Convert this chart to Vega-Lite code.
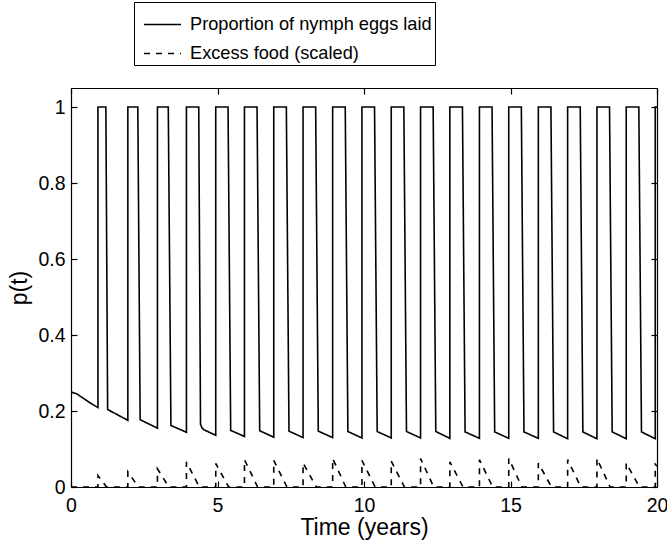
{
  "$schema": "https://vega.github.io/schema/vega-lite/v6.json",
  "width": 586,
  "height": 399,
  "autosize": {"type": "none"},
  "padding": {"left": 71, "top": 88, "right": 10, "bottom": 59},
  "background": "white",
  "config": {
    "view": {"stroke": null},
    "font": "Liberation Sans",
    "axis": {
      "grid": false,
      "labelFlush": false,
      "labelOverlap": false,
      "domainColor": "black",
      "domainWidth": 1.2,
      "tickColor": "black",
      "tickWidth": 1.2,
      "tickSize": -6,
      "labelColor": "black",
      "labelFont": "Liberation Sans",
      "labelFontSize": 19.5,
      "titleColor": "black",
      "titleFont": "Liberation Sans",
      "titleFontSize": 23,
      "titleFontWeight": "normal"
    }
  },
  "data": {
    "values": [
      {"t": 0, "v": 0.25, "s": "Proportion of nymph eggs laid", "i": 0},
      {"t": 0.2, "v": 0.245, "s": "Proportion of nymph eggs laid", "i": 1},
      {"t": 0.43, "v": 0.233, "s": "Proportion of nymph eggs laid", "i": 2},
      {"t": 0.66, "v": 0.221, "s": "Proportion of nymph eggs laid", "i": 3},
      {"t": 0.92, "v": 0.209, "s": "Proportion of nymph eggs laid", "i": 4},
      {"t": 0.92, "v": 1, "s": "Proportion of nymph eggs laid", "i": 5},
      {"t": 1.19, "v": 1, "s": "Proportion of nymph eggs laid", "i": 6},
      {"t": 1.25, "v": 0.204, "s": "Proportion of nymph eggs laid", "i": 7},
      {"t": 1.94, "v": 0.1755, "s": "Proportion of nymph eggs laid", "i": 8},
      {"t": 1.94, "v": 1, "s": "Proportion of nymph eggs laid", "i": 9},
      {"t": 2.28, "v": 1, "s": "Proportion of nymph eggs laid", "i": 10},
      {"t": 2.36, "v": 0.177, "s": "Proportion of nymph eggs laid", "i": 11},
      {"t": 2.95, "v": 0.155, "s": "Proportion of nymph eggs laid", "i": 12},
      {"t": 2.95, "v": 1, "s": "Proportion of nymph eggs laid", "i": 13},
      {"t": 3.32, "v": 1, "s": "Proportion of nymph eggs laid", "i": 14},
      {"t": 3.41, "v": 0.162, "s": "Proportion of nymph eggs laid", "i": 15},
      {"t": 3.94, "v": 0.144, "s": "Proportion of nymph eggs laid", "i": 16},
      {"t": 3.94, "v": 1, "s": "Proportion of nymph eggs laid", "i": 17},
      {"t": 4.36, "v": 1, "s": "Proportion of nymph eggs laid", "i": 18},
      {"t": 4.42, "v": 0.165, "s": "Proportion of nymph eggs laid", "i": 19},
      {"t": 4.47, "v": 0.156, "s": "Proportion of nymph eggs laid", "i": 20},
      {"t": 4.53, "v": 0.151, "s": "Proportion of nymph eggs laid", "i": 21},
      {"t": 4.94, "v": 0.136, "s": "Proportion of nymph eggs laid", "i": 22},
      {"t": 4.94, "v": 1, "s": "Proportion of nymph eggs laid", "i": 23},
      {"t": 5.36, "v": 1, "s": "Proportion of nymph eggs laid", "i": 24},
      {"t": 5.45, "v": 0.149, "s": "Proportion of nymph eggs laid", "i": 25},
      {"t": 5.92, "v": 0.133, "s": "Proportion of nymph eggs laid", "i": 26},
      {"t": 5.92, "v": 1, "s": "Proportion of nymph eggs laid", "i": 27},
      {"t": 6.35, "v": 1, "s": "Proportion of nymph eggs laid", "i": 28},
      {"t": 6.44, "v": 0.148, "s": "Proportion of nymph eggs laid", "i": 29},
      {"t": 6.92, "v": 0.131, "s": "Proportion of nymph eggs laid", "i": 30},
      {"t": 6.92, "v": 1, "s": "Proportion of nymph eggs laid", "i": 31},
      {"t": 7.35, "v": 1, "s": "Proportion of nymph eggs laid", "i": 32},
      {"t": 7.44, "v": 0.147, "s": "Proportion of nymph eggs laid", "i": 33},
      {"t": 7.92, "v": 0.13, "s": "Proportion of nymph eggs laid", "i": 34},
      {"t": 7.92, "v": 1, "s": "Proportion of nymph eggs laid", "i": 35},
      {"t": 8.35, "v": 1, "s": "Proportion of nymph eggs laid", "i": 36},
      {"t": 8.44, "v": 0.147, "s": "Proportion of nymph eggs laid", "i": 37},
      {"t": 8.93, "v": 0.13, "s": "Proportion of nymph eggs laid", "i": 38},
      {"t": 8.93, "v": 1, "s": "Proportion of nymph eggs laid", "i": 39},
      {"t": 9.36, "v": 1, "s": "Proportion of nymph eggs laid", "i": 40},
      {"t": 9.45, "v": 0.146, "s": "Proportion of nymph eggs laid", "i": 41},
      {"t": 9.93, "v": 0.129, "s": "Proportion of nymph eggs laid", "i": 42},
      {"t": 9.93, "v": 1, "s": "Proportion of nymph eggs laid", "i": 43},
      {"t": 10.36, "v": 1, "s": "Proportion of nymph eggs laid", "i": 44},
      {"t": 10.45, "v": 0.146, "s": "Proportion of nymph eggs laid", "i": 45},
      {"t": 10.93, "v": 0.129, "s": "Proportion of nymph eggs laid", "i": 46},
      {"t": 10.93, "v": 1, "s": "Proportion of nymph eggs laid", "i": 47},
      {"t": 11.36, "v": 1, "s": "Proportion of nymph eggs laid", "i": 48},
      {"t": 11.45, "v": 0.146, "s": "Proportion of nymph eggs laid", "i": 49},
      {"t": 11.93, "v": 0.129, "s": "Proportion of nymph eggs laid", "i": 50},
      {"t": 11.93, "v": 1, "s": "Proportion of nymph eggs laid", "i": 51},
      {"t": 12.36, "v": 1, "s": "Proportion of nymph eggs laid", "i": 52},
      {"t": 12.45, "v": 0.146, "s": "Proportion of nymph eggs laid", "i": 53},
      {"t": 12.93, "v": 0.128, "s": "Proportion of nymph eggs laid", "i": 54},
      {"t": 12.93, "v": 1, "s": "Proportion of nymph eggs laid", "i": 55},
      {"t": 13.36, "v": 1, "s": "Proportion of nymph eggs laid", "i": 56},
      {"t": 13.45, "v": 0.145, "s": "Proportion of nymph eggs laid", "i": 57},
      {"t": 13.94, "v": 0.128, "s": "Proportion of nymph eggs laid", "i": 58},
      {"t": 13.94, "v": 1, "s": "Proportion of nymph eggs laid", "i": 59},
      {"t": 14.37, "v": 1, "s": "Proportion of nymph eggs laid", "i": 60},
      {"t": 14.46, "v": 0.145, "s": "Proportion of nymph eggs laid", "i": 61},
      {"t": 14.94, "v": 0.128, "s": "Proportion of nymph eggs laid", "i": 62},
      {"t": 14.94, "v": 1, "s": "Proportion of nymph eggs laid", "i": 63},
      {"t": 15.37, "v": 1, "s": "Proportion of nymph eggs laid", "i": 64},
      {"t": 15.46, "v": 0.145, "s": "Proportion of nymph eggs laid", "i": 65},
      {"t": 15.95, "v": 0.128, "s": "Proportion of nymph eggs laid", "i": 66},
      {"t": 15.95, "v": 1, "s": "Proportion of nymph eggs laid", "i": 67},
      {"t": 16.38, "v": 1, "s": "Proportion of nymph eggs laid", "i": 68},
      {"t": 16.47, "v": 0.145, "s": "Proportion of nymph eggs laid", "i": 69},
      {"t": 16.95, "v": 0.127, "s": "Proportion of nymph eggs laid", "i": 70},
      {"t": 16.95, "v": 1, "s": "Proportion of nymph eggs laid", "i": 71},
      {"t": 17.38, "v": 1, "s": "Proportion of nymph eggs laid", "i": 72},
      {"t": 17.47, "v": 0.145, "s": "Proportion of nymph eggs laid", "i": 73},
      {"t": 17.95, "v": 0.127, "s": "Proportion of nymph eggs laid", "i": 74},
      {"t": 17.95, "v": 1, "s": "Proportion of nymph eggs laid", "i": 75},
      {"t": 18.38, "v": 1, "s": "Proportion of nymph eggs laid", "i": 76},
      {"t": 18.47, "v": 0.145, "s": "Proportion of nymph eggs laid", "i": 77},
      {"t": 18.95, "v": 0.127, "s": "Proportion of nymph eggs laid", "i": 78},
      {"t": 18.95, "v": 1, "s": "Proportion of nymph eggs laid", "i": 79},
      {"t": 19.38, "v": 1, "s": "Proportion of nymph eggs laid", "i": 80},
      {"t": 19.47, "v": 0.145, "s": "Proportion of nymph eggs laid", "i": 81},
      {"t": 19.94, "v": 0.127, "s": "Proportion of nymph eggs laid", "i": 82},
      {"t": 19.94, "v": 1, "s": "Proportion of nymph eggs laid", "i": 83},
      {"t": 20, "v": 1, "s": "Proportion of nymph eggs laid", "i": 84},
      {"t": 0, "v": 0, "s": "Excess food (scaled)", "i": 85},
      {"t": 0.92, "v": 0, "s": "Excess food (scaled)", "i": 86},
      {"t": 0.92, "v": 0.03, "s": "Excess food (scaled)", "i": 87},
      {"t": 1.21, "v": 0, "s": "Excess food (scaled)", "i": 88},
      {"t": 1.94, "v": 0, "s": "Excess food (scaled)", "i": 89},
      {"t": 1.94, "v": 0.04, "s": "Excess food (scaled)", "i": 90},
      {"t": 2.3, "v": 0, "s": "Excess food (scaled)", "i": 91},
      {"t": 2.95, "v": 0, "s": "Excess food (scaled)", "i": 92},
      {"t": 2.95, "v": 0.048, "s": "Excess food (scaled)", "i": 93},
      {"t": 3.34, "v": 0, "s": "Excess food (scaled)", "i": 94},
      {"t": 3.94, "v": 0, "s": "Excess food (scaled)", "i": 95},
      {"t": 3.94, "v": 0.066, "s": "Excess food (scaled)", "i": 96},
      {"t": 4.38, "v": 0, "s": "Excess food (scaled)", "i": 97},
      {"t": 4.94, "v": 0, "s": "Excess food (scaled)", "i": 98},
      {"t": 4.94, "v": 0.062, "s": "Excess food (scaled)", "i": 99},
      {"t": 5.38, "v": 0, "s": "Excess food (scaled)", "i": 100},
      {"t": 5.92, "v": 0, "s": "Excess food (scaled)", "i": 101},
      {"t": 5.92, "v": 0.072, "s": "Excess food (scaled)", "i": 102},
      {"t": 6.37, "v": 0, "s": "Excess food (scaled)", "i": 103},
      {"t": 6.92, "v": 0, "s": "Excess food (scaled)", "i": 104},
      {"t": 6.92, "v": 0.07, "s": "Excess food (scaled)", "i": 105},
      {"t": 7.37, "v": 0, "s": "Excess food (scaled)", "i": 106},
      {"t": 7.92, "v": 0, "s": "Excess food (scaled)", "i": 107},
      {"t": 7.92, "v": 0.063, "s": "Excess food (scaled)", "i": 108},
      {"t": 8.37, "v": 0, "s": "Excess food (scaled)", "i": 109},
      {"t": 8.93, "v": 0, "s": "Excess food (scaled)", "i": 110},
      {"t": 8.93, "v": 0.075, "s": "Excess food (scaled)", "i": 111},
      {"t": 9.38, "v": 0, "s": "Excess food (scaled)", "i": 112},
      {"t": 9.93, "v": 0, "s": "Excess food (scaled)", "i": 113},
      {"t": 9.93, "v": 0.07, "s": "Excess food (scaled)", "i": 114},
      {"t": 10.38, "v": 0, "s": "Excess food (scaled)", "i": 115},
      {"t": 10.93, "v": 0, "s": "Excess food (scaled)", "i": 116},
      {"t": 10.93, "v": 0.068, "s": "Excess food (scaled)", "i": 117},
      {"t": 11.38, "v": 0, "s": "Excess food (scaled)", "i": 118},
      {"t": 11.93, "v": 0, "s": "Excess food (scaled)", "i": 119},
      {"t": 11.93, "v": 0.075, "s": "Excess food (scaled)", "i": 120},
      {"t": 12.38, "v": 0, "s": "Excess food (scaled)", "i": 121},
      {"t": 12.93, "v": 0, "s": "Excess food (scaled)", "i": 122},
      {"t": 12.93, "v": 0.066, "s": "Excess food (scaled)", "i": 123},
      {"t": 13.38, "v": 0, "s": "Excess food (scaled)", "i": 124},
      {"t": 13.94, "v": 0, "s": "Excess food (scaled)", "i": 125},
      {"t": 13.94, "v": 0.072, "s": "Excess food (scaled)", "i": 126},
      {"t": 14.39, "v": 0, "s": "Excess food (scaled)", "i": 127},
      {"t": 14.94, "v": 0, "s": "Excess food (scaled)", "i": 128},
      {"t": 14.94, "v": 0.075, "s": "Excess food (scaled)", "i": 129},
      {"t": 15.39, "v": 0, "s": "Excess food (scaled)", "i": 130},
      {"t": 15.95, "v": 0, "s": "Excess food (scaled)", "i": 131},
      {"t": 15.95, "v": 0.063, "s": "Excess food (scaled)", "i": 132},
      {"t": 16.4, "v": 0, "s": "Excess food (scaled)", "i": 133},
      {"t": 16.95, "v": 0, "s": "Excess food (scaled)", "i": 134},
      {"t": 16.95, "v": 0.072, "s": "Excess food (scaled)", "i": 135},
      {"t": 17.4, "v": 0, "s": "Excess food (scaled)", "i": 136},
      {"t": 17.95, "v": 0, "s": "Excess food (scaled)", "i": 137},
      {"t": 17.95, "v": 0.075, "s": "Excess food (scaled)", "i": 138},
      {"t": 18.4, "v": 0, "s": "Excess food (scaled)", "i": 139},
      {"t": 18.95, "v": 0, "s": "Excess food (scaled)", "i": 140},
      {"t": 18.95, "v": 0.063, "s": "Excess food (scaled)", "i": 141},
      {"t": 19.4, "v": 0, "s": "Excess food (scaled)", "i": 142},
      {"t": 19.94, "v": 0, "s": "Excess food (scaled)", "i": 143},
      {"t": 19.94, "v": 0.06, "s": "Excess food (scaled)", "i": 144},
      {"t": 20, "v": 0.055, "s": "Excess food (scaled)", "i": 145}
    ]
  },
  "layer": [
    {
      "mark": {"type": "line", "color": "black", "strokeWidth": 1.6, "clip": true},
      "encoding": {
        "x": {
          "field": "t", "type": "quantitative",
          "scale": {"domain": [0, 20], "nice": false, "zero": false},
          "axis": {"orient": "bottom", "values": [0, 5, 10, 15, 20], "format": "~g", "labelPadding": 15, "title": "Time (years)", "titlePadding": 2}
        },
        "y": {
          "field": "v", "type": "quantitative",
          "scale": {"domain": [0, 1.05], "nice": false},
          "axis": {"orient": "left", "values": [0, 0.2, 0.4, 0.6, 0.8, 1], "format": "~g", "labelPadding": 12, "title": "p(t)", "titlePadding": 6}
        },
        "strokeDash": {
          "field": "s", "type": "nominal",
          "scale": {"domain": ["Proportion of nymph eggs laid", "Excess food (scaled)"], "range": [[1, 0], [6, 6]]},
          "legend": {
            "orient": "none", "legendX": 63, "legendY": -86, "title": null,
            "symbolType": "stroke", "symbolSize": 1369, "symbolStrokeWidth": 1.5, "symbolStrokeColor": "black",
            "symbolOffset": 6,
            "labelFont": "Liberation Sans", "labelFontSize": 18.2, "labelColor": "black", "labelOffset": 8, "labelLimit": 400,
            "strokeColor": "black", "fillColor": "white", "padding": 3, "rowPadding": 1
          }
        },
        "order": {"field": "i", "type": "quantitative"}
      }
    },
    {
      "mark": {"type": "line", "opacity": 0},
      "encoding": {
        "x": {
          "field": "t", "type": "quantitative",
          "scale": {"domain": [0, 20], "nice": false, "zero": false},
          "axis": {"orient": "top", "values": [0, 5, 10, 15, 20], "labels": false, "title": null}
        },
        "y": {
          "field": "v", "type": "quantitative",
          "scale": {"domain": [0, 1.05], "nice": false},
          "axis": {"orient": "right", "values": [0, 0.2, 0.4, 0.6, 0.8, 1], "labels": false, "title": null}
        },
        "detail": {"field": "s", "type": "nominal"},
        "order": {"field": "i", "type": "quantitative"}
      }
    }
  ],
  "resolve": {"axis": {"x": "independent", "y": "independent"}}
}
